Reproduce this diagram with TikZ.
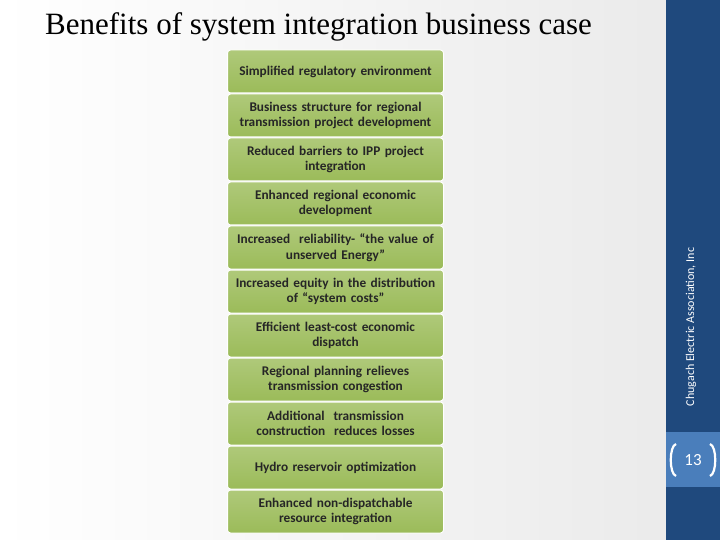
\documentclass[tikz,border=0pt]{standalone}
\usepackage{fontspec}
\setmainfont{Carlito}
\newfontfamily\titlefont{Liberation Serif}
\definecolor{bar}{HTML}{1F497D}
\definecolor{barlight}{HTML}{4A7EBB}
\definecolor{boxg}{HTML}{9BBB59}
\definecolor{boxg2}{HTML}{AFC97A}
\begin{document}
\begin{tikzpicture}[x=1pt,y=-1pt,
  item/.style={draw=white,line width=1pt,rounded corners=3pt,top color=boxg2,bottom color=boxg,
    minimum width=216pt,minimum height=43pt,text width=214pt,align=center,
    font=\bfseries\fontsize{13.3}{15.5}\selectfont,text=black!85,inner sep=1pt}]
\useasboundingbox (0,0) rectangle (720,540);
\shade[left color=white,right color=black!8] (0,0) rectangle (666,540);
\fill[bar] (666,0) rectangle (720,540);
\fill[barlight] (666,432) rectangle (720,487);
\node[anchor=west,font=\titlefont\fontsize{31}{33}\selectfont,inner sep=0pt] (title) at (45,27) {Benefits of system integration business case};
\node[rotate=90,text=white,font=\fontsize{12}{14}\selectfont] (org) at (691,327) {Chugach Electric Association, Inc};
\node[text=white,font=\fontsize{17}{19}\selectfont] (num) at (693,460) {13};
\draw[white,line width=2.2pt] (676,444) .. controls (669,446) and (669,474) .. (676,476);
\draw[white,line width=2.2pt] (710,444) .. controls (717,446) and (717,474) .. (710,476);
\foreach \t [count=\i] in {
 {Simplified regulatory environment},
 {Business structure for regional\\transmission project development},
 {Reduced barriers to IPP project\\integration},
 {Enhanced regional economic\\development},
 {Increased \ reliability- ``the value of\\unserved Energy''},
 {Increased equity in the distribution\\of ``system costs''},
 {Efficient least-cost economic\\dispatch},
 {Regional planning relieves\\transmission congestion},
 {Additional \ transmission\\construction \ reduces losses},
 {Hydro reservoir optimization},
 {Enhanced non-dispatchable\\resource integration}}
 \node[item] (b\i) at (335.5,{71.5+44*(\i-1)}) {\t};
\end{tikzpicture}
\end{document}
